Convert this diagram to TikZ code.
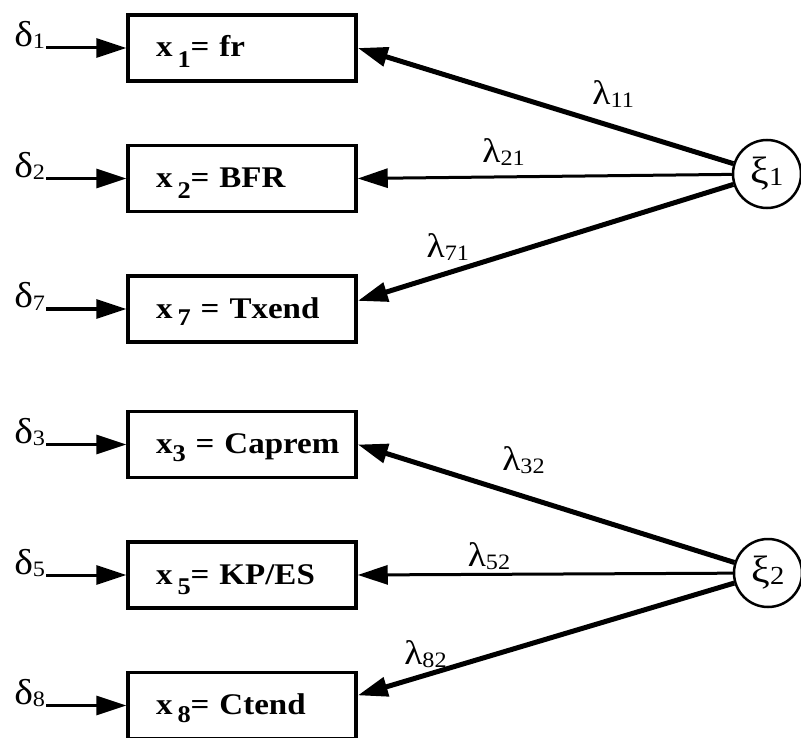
\documentclass[tikz,border=0pt]{standalone}
\usepackage{fontspec}
\setmainfont{Liberation Serif}[FakeStretch=1.1]
\usetikzlibrary{arrows.meta,positioning}
\def\ixsize{21}
\newcommand{\ix}[2][2pt]{\raisebox{-#1}{\fontsize{\ixsize}{\ixsize}\selectfont #2}}

\begin{document}
\begin{tikzpicture}[x=1pt,y=1pt,>={Triangle[length=30pt,width=19pt]},node distance=61pt,
    font=\fontsize{32}{36}\selectfont,
    box/.style={draw,line width=3.5pt,text width=172pt,inner xsep=28pt,minimum height=66pt,
        align=left,font=\fontsize{30}{34}\selectfont\bfseries\def\ixsize{24},text height=20pt,text depth=2pt},
    latent/.style={draw,circle,line width=2.5pt,minimum size=68pt,inner sep=0pt,
        font=\fontsize{38}{40}\selectfont\def\ixsize{26}},
    err/.style={inner sep=1pt,text height=10pt,text depth=12pt,font=\fontsize{36}{40}\selectfont\def\ixsize{22}},
    lab/.style={inner sep=0pt,font=\fontsize{34}{36}\selectfont\def\ixsize{22}},
    load/.style={->,line width=5pt},
    feed/.style={->,line width=3pt}]

                \useasboundingbox (0,0) rectangle (801,-738);

                \node[box] (x1) at (242,-48) {x\,\ix[11pt]{1}= fr};
                \node[box] (x2) [below=of x1] {x\,\ix[11pt]{2}= BFR};
                \node[box] (x7) [below=of x2] {x\,\ix[8pt]{7}~=~Txend};
                \node[box] (x3) [below=66pt of x7] {x\ix[8pt]{3}~=~Caprem};
                \node[box] (x5) [below=of x3] {x\,\ix[10pt]{5}=~KP/ES};
                \node[box] (x8) [below=of x5] {x\,\ix[8pt]{8}=~Ctend};

                \node[latent] (xi1) at (767,-174) {ξ\ix{1}};
                \node[latent] (xi2) at (768,-573) {ξ\ix{2}};

                \foreach \i in {1,2,7,3,5,8} {
                    \node[err,left=80pt of x\i] (d\i) {δ\ix{\i}};
                    \draw[feed] (d\i) -- (x\i);
                }

                \path[load] (xi1) edge node[lab,pos=0.32,above=17pt] {λ\ix[3pt]{11}} (x1.east)
                                  edge[line width=3pt] node[lab,pos=0.61,above=10pt] {λ\ix[3pt]{21}} (x2.east)
                                  edge node[lab,pos=0.76,above=10pt] {λ\ix[3pt]{71}} (x7.4)
                            (xi2) edge node[lab,pos=0.56,above=20pt] {λ\ix[3pt]{32}} (x3.east)
                                  edge[line width=3pt] node[lab,pos=0.65,above=3pt] {λ\ix[3pt]{52}} (x5.east)
                                  edge node[lab,pos=0.82,above=5pt] {λ\ix[3pt]{82}} (x8.5);

            \end{tikzpicture}
\end{document}
